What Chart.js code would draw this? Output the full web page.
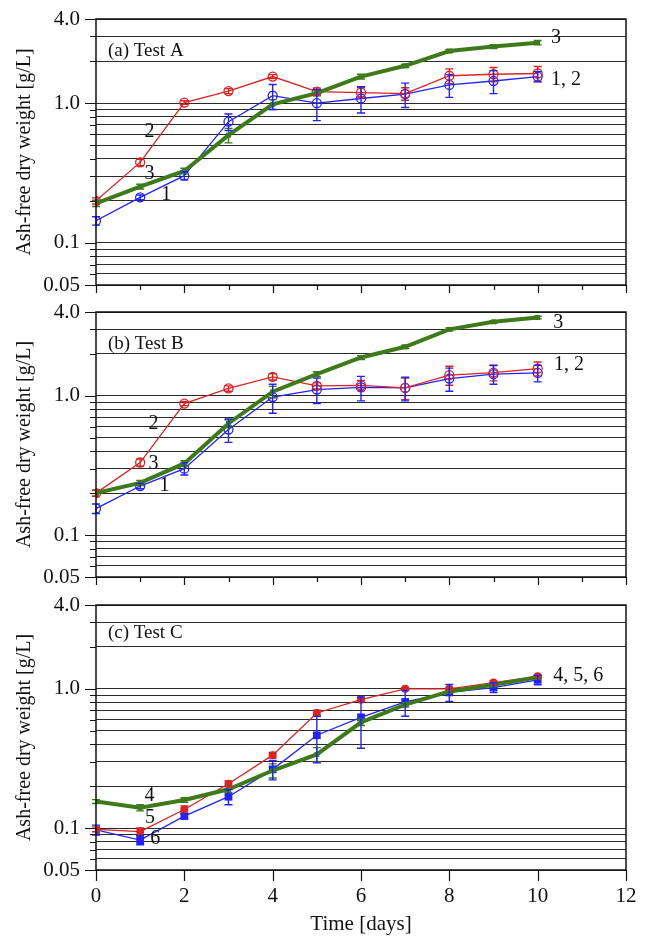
<!DOCTYPE html>
<html>
<head>
<meta charset="utf-8">
<script src="https://cdn.jsdelivr.net/npm/chart.js@4.4.1/dist/chart.umd.min.js"></script>
<style>
html, body { margin: 0; padding: 0; background: #fff; }
#wrap { position: relative; width: 646px; height: 937px; }
.panel { position: absolute; left: 0; width: 646px; }
</style>
</head>
<body>
<div id="wrap">
  <div class="panel" style="top:0;height:300px"><canvas id="chartA"></canvas></div>
  <div class="panel" style="top:296px;height:296px"><canvas id="chartB"></canvas></div>
  <div class="panel" style="top:590px;height:347px"><canvas id="chartC"></canvas></div>
</div>
<script>
// ---- data (g/L) ----
const days = [0, 1, 2, 3, 4, 5, 6, 7, 8, 9, 10];
const yGridValues = [0.05, 0.06, 0.07, 0.08, 0.09, 0.1, 0.2, 0.3, 0.4, 0.5, 0.6, 0.7, 0.8, 0.9, 1, 2, 3, 4];
const yMajorLabels = { 0.05: '0.05', 0.1: '0.1', 1: '1.0', 4: '4.0' };
const xTickLabels = ['0', '2', '4', '6', '8', '10', '12'];

// (a) Test A
const testA_1 = [0.144, 0.212, 0.303, 0.737, 1.13, 1.0, 1.08, 1.16, 1.35, 1.44, 1.55];
const errA_1  = [0.01, 0.008, 0.02, 0.1, 0.23, 0.25, 0.23, 0.23, 0.25, 0.27, 0.13];
const testA_2 = [0.2, 0.377, 1.01, 1.22, 1.55, 1.21, 1.19, 1.17, 1.57, 1.61, 1.63];
const errA_2  = [0.01, 0.02, 0.03, 0.05, 0.05, 0.07, 0.1, 0.12, 0.19, 0.19, 0.2];
const testA_3 = [0.192, 0.253, 0.327, 0.59, 0.98, 1.18, 1.55, 1.85, 2.36, 2.54, 2.71];
const errA_3  = [0.01, 0.01, 0.015, 0.07, 0.08, 0.05, 0.06, 0.05, 0.06, 0.08, 0.1];

// (b) Test B
const testB_1 = [0.155, 0.225, 0.30, 0.573, 0.98, 1.11, 1.15, 1.14, 1.33, 1.43, 1.46];
const errB_1  = [0.012, 0.01, 0.03, 0.11, 0.23, 0.23, 0.23, 0.22, 0.25, 0.22, 0.2];
const testB_2 = [0.2, 0.332, 0.88, 1.13, 1.37, 1.18, 1.19, 1.14, 1.41, 1.47, 1.57];
const errB_2  = [0.01, 0.02, 0.03, 0.05, 0.07, 0.06, 0.1, 0.2, 0.22, 0.19, 0.18];
const testB_3 = [0.2, 0.237, 0.327, 0.633, 1.07, 1.43, 1.885, 2.25, 3.0, 3.4, 3.65];
const errB_3  = [0.01, 0.01, 0.015, 0.04, 0.1, 0.06, 0.06, 0.06, 0.07, 0.07, 0.08];

// (c) Test C
const testC_4 = [0.155, 0.140, 0.159, 0.19, 0.259, 0.338, 0.575, 0.77, 0.958, 1.07, 1.21];
const errC_4  = [0.005, 0.007, 0.006, 0.01, 0.03, 0.04, 0.03, 0.03, 0.03, 0.03, 0.03];
const testC_5 = [0.098, 0.0944, 0.136, 0.208, 0.334, 0.671, 0.836, 1.0, 1.0, 1.11, 1.23];
const errC_5  = [0.004, 0.006, 0.008, 0.01, 0.015, 0.03, 0.02, 0.02, 0.02, 0.03, 0.03];
const testC_6 = [0.097, 0.082, 0.122, 0.168, 0.264, 0.464, 0.624, 0.805, 0.943, 1.02, 1.16];
const errC_6  = [0.008, 0.006, 0.005, 0.021, 0.042, 0.17, 0.25, 0.17, 0.13, 0.08, 0.09];

const FONT = '"Liberation Serif", "Times New Roman", serif';
const BLUE = '#2222ff';
const RED = '#dd2222';
const GREEN = '#3d7a1a';

function pts(values) {
    return days.map((d, i) => ({ x: d, y: values[i] }));
}

// draws error bars, the frame, outward ticks and the text annotations
const panelDecor = {
    id: 'panelDecor',
    afterDatasetsDraw(chart) {
        const { ctx, scales: { y } } = chart;
        chart.data.datasets.forEach((ds, i) => {
            if (!ds.errors) return;
            const meta = chart.getDatasetMeta(i);
            ctx.save();
            ctx.strokeStyle = ds.borderColor;
            ctx.lineWidth = 1.4;
            meta.data.forEach((pt, j) => {
                const e = ds.errors[j];
                const v = ds.data[j].y;
                const top = y.getPixelForValue(v + e);
                const bot = y.getPixelForValue(Math.max(v - e, 0.0505));
                ctx.beginPath();
                ctx.moveTo(pt.x, top); ctx.lineTo(pt.x, bot);
                ctx.moveTo(pt.x - 4, top); ctx.lineTo(pt.x + 4, top);
                ctx.moveTo(pt.x - 4, bot); ctx.lineTo(pt.x + 4, bot);
                ctx.stroke();
            });
            ctx.restore();
        });
    },
    afterDraw(chart, args, opts) {
        const { ctx, chartArea: a, scales: { x, y } } = chart;
        ctx.save();
        ctx.strokeStyle = '#111';
        ctx.lineWidth = 1.5;
        ctx.strokeRect(a.left, a.top, a.right - a.left, a.bottom - a.top);

        // y ticks
        ctx.lineWidth = 1.2;
        ctx.beginPath();
        yGridValues.forEach(v => {
            const py = Math.round(y.getPixelForValue(v)) + 0.5;
            const len = yMajorLabels[v] ? 11 : 6;
            ctx.moveTo(a.left - len, py); ctx.lineTo(a.left, py);
        });
        // x ticks
        for (let d = 0; d <= 12; d += opts.tickStep) {
            const px = Math.round(x.getPixelForValue(d)) + 0.5;
            const len = d % 2 === 0 ? opts.majorLen : 5;
            ctx.moveTo(px, a.bottom); ctx.lineTo(px, a.bottom + len);
        }
        ctx.stroke();

        // panel title
        ctx.fillStyle = '#111';
        ctx.textBaseline = 'middle';
        ctx.textAlign = 'left';
        ctx.font = '19px ' + FONT;
        ctx.fillText(opts.title, x.getPixelForValue(0.27), y.getPixelForValue(opts.titleY));

        // series labels
        ctx.font = '20px ' + FONT;
        opts.labels.forEach(l => {
            ctx.textAlign = l.align;
            ctx.fillText(l.text, x.getPixelForValue(l.x), y.getPixelForValue(l.y));
        });
        ctx.restore();
    }
};

function makeChart(id, datasets, decor, bottomAxis, padTop, padBottom) {
    const xScale = {
        type: 'linear', min: 0, max: 12, display: false
    };
    if (bottomAxis) {
        Object.assign(xScale, {
            display: true,
            ticks: {
                stepSize: 2,
                color: '#111',
                padding: 14,
                font: { family: FONT, size: 21 },
                callback: (v) => xTickLabels[v / 2]
            },
            grid: { drawOnChartArea: false, drawTicks: false },
            border: { display: false },
            title: {
                display: true,
                text: 'Time [days]',
                color: '#111',
                font: { family: FONT, size: 21 },
                padding: { top: 0, bottom: 0 }
            },
            afterFit: (s) => { s.height = 67; s.paddingLeft = 0; s.paddingRight = 0; }
        });
    }
    return new Chart(document.getElementById(id), {
        type: 'line',
        data: { datasets: datasets },
        options: {
            responsive: true,
            maintainAspectRatio: false,
            animation: false,
            layout: { padding: { left: 0, right: 20, top: padTop, bottom: padBottom } },
            plugins: {
                legend: { display: false },
                tooltip: { enabled: false },
                panelDecor: decor
            },
            scales: {
                x: xScale,
                y: {
                    type: 'logarithmic',
                    min: 0.05,
                    max: 4,
                    afterBuildTicks: (s) => { s.ticks = yGridValues.map(v => ({ value: v })); },
                    afterFit: (s) => { s.width = 96; s.paddingTop = 0; s.paddingBottom = 0; },
                    ticks: {
                        autoSkip: false,
                        color: '#111',
                        padding: 16,
                        font: { family: FONT, size: 21 },
                        callback: (v) => yMajorLabels[v] || ''
                    },
                    grid: { color: '#2a2a2a', lineWidth: 1, drawTicks: false },
                    border: { display: false },
                    title: {
                        display: true,
                        text: 'Ash-free dry weight [g/L]',
                        color: '#111',
                        font: { family: FONT, size: 20 },
                        padding: { top: 13, bottom: 0 }
                    }
                }
            }
        },
        plugins: [panelDecor]
    });
}

function thick(values, errs) {
    return {
        data: pts(values), errors: errs,
        borderColor: GREEN, backgroundColor: GREEN, borderWidth: 4,
        pointStyle: 'rect', pointRadius: 3.5, pointBorderWidth: 0, tension: 0
    };
}
function openCircle(values, errs, color) {
    return {
        data: pts(values), errors: errs,
        borderColor: color, backgroundColor: 'rgba(0,0,0,0)', borderWidth: 1.3,
        pointStyle: 'circle', pointRadius: 4.5, pointBorderWidth: 1.3, tension: 0
    };
}
function filled(values, errs, color, style, r) {
    return {
        data: pts(values), errors: errs,
        borderColor: color, backgroundColor: color, borderWidth: 1.3,
        pointStyle: style, pointRadius: r, pointBorderWidth: 0, tension: 0
    };
}

makeChart('chartA', [
    thick(testA_3, errA_3),
    openCircle(testA_2, errA_2, RED),
    openCircle(testA_1, errA_1, BLUE)
], {
    title: '(a) Test A', titleY: 2.36, tickStep: 1, majorLen: 8,
    labels: [
        { text: '3', x: 10.3, y: 2.94, align: 'left' },
        { text: '1, 2', x: 10.3, y: 1.46, align: 'left' },
        { text: '2', x: 1.21, y: 0.626, align: 'center' },
        { text: '3', x: 1.21, y: 0.31, align: 'center' },
        { text: '1', x: 1.59, y: 0.22, align: 'center' }
    ]
}, false, 19, 15);

makeChart('chartB', [
    thick(testB_3, errB_3),
    openCircle(testB_2, errB_2, RED),
    openCircle(testB_1, errB_1, BLUE)
], {
    title: '(b) Test B', titleY: 2.35, tickStep: 1, majorLen: 8,
    labels: [
        { text: '3', x: 10.35, y: 3.34, align: 'left' },
        { text: '1, 2', x: 10.37, y: 1.68, align: 'left' },
        { text: '2', x: 1.3, y: 0.634, align: 'center' },
        { text: '3', x: 1.3, y: 0.323, align: 'center' },
        { text: '1', x: 1.55, y: 0.225, align: 'center' }
    ]
}, false, 16, 15);

makeChart('chartC', [
    thick(testC_4, errC_4),
    filled(testC_5, errC_5, RED, 'circle', 4),
    filled(testC_6, errC_6, BLUE, 'rect', 5.5)
], {
    title: '(c) Test C', titleY: 2.5, tickStep: 2, majorLen: 11,
    labels: [
        { text: '4, 5, 6', x: 10.35, y: 1.24, align: 'left' },
        { text: '4', x: 1.21, y: 0.17, align: 'center' },
        { text: '5', x: 1.22, y: 0.119, align: 'center' },
        { text: '6', x: 1.34, y: 0.0842, align: 'center' }
    ]
}, true, 15, 0);
</script>
</body>
</html>
